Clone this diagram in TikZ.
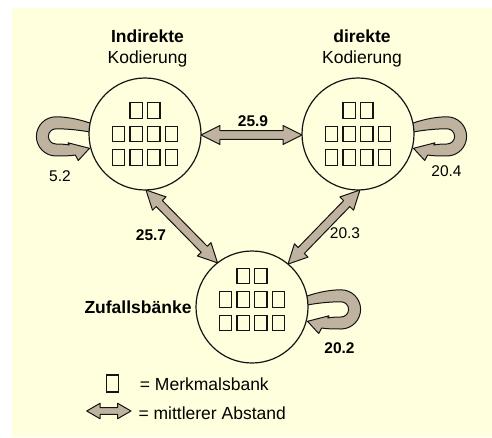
\documentclass[tikz,border=0pt]{standalone}
\usepackage{fontspec}
\setmainfont{Liberation Sans}
\usetikzlibrary{calc}

\definecolor{paper}{RGB}{255,255,221}
\definecolor{bandfill}{RGB}{191,179,159}
\definecolor{ink}{RGB}{20,20,20}

\pgfdeclarelayer{paperlayer}
\pgfdeclarelayer{links}
\pgfsetlayers{paperlayer,links,main}

% Wide outlined double arrow between two named points:
% #1 start, #2 end, #3 head length, #4 head half-width, #5 shaft half-width
\newcommand\widearrow[5]{%
  \coordinate (wa1) at ($(#1)!#3!(#2)$);
  \coordinate (wa2) at ($(#2)!#3!(#1)$);
  \draw[bandstyle] (#1) -- ($(wa1)!#4!90:(#2)$) -- ($(wa1)!#5!90:(#2)$)
    -- ($(wa2)!#5!-90:(#1)$) -- ($(wa2)!#4!-90:(#1)$) -- (#2)
    -- ($(wa2)!#4!90:(#1)$) -- ($(wa2)!#5!90:(#1)$)
    -- ($(wa1)!#5!-90:(#2)$) -- ($(wa1)!#4!-90:(#2)$) -- cycle;}

% Self-loop band beside a circle: #1 circle name, #2 side (-1 west, 1 east).
% Bend centred 89pt out and 2.4pt down, outer radius 19.6pt, inner 7.6pt.
\newcommand\selfloop[2]{%
  \draw[bandstyle] ($(#1)+(#2*54pt,10.6pt)$)
    .. controls ($(#1)+(#2*68pt,15.5pt)$) and ($(#1)+(#2*80pt,17.2pt)$) .. ($(#1)+(#2*89pt,17.2pt)$)
    .. controls ($(#1)+(#2*99.8pt,17.2pt)$) and ($(#1)+(#2*108.6pt,8.4pt)$) .. ($(#1)+(#2*108.6pt,-2.4pt)$)
    .. controls ($(#1)+(#2*108.6pt,-13.2pt)$) and ($(#1)+(#2*99.8pt,-22pt)$) .. ($(#1)+(#2*89pt,-22pt)$)
    .. controls ($(#1)+(#2*80pt,-22pt)$) and ($(#1)+(#2*74pt,-21.8pt)$) .. ($(#1)+(#2*69.7pt,-21pt)$)
    -- ($(#1)+(#2*66.7pt,-26.5pt)$) -- ($(#1)+(#2*55.5pt,-14.3pt)$)
    -- ($(#1)+(#2*77pt,-8.8pt)$) -- ($(#1)+(#2*75.7pt,-11pt)$)
    .. controls ($(#1)+(#2*80pt,-10.2pt)$) and ($(#1)+(#2*85pt,-10pt)$) .. ($(#1)+(#2*89pt,-10pt)$)
    .. controls ($(#1)+(#2*93.2pt,-10pt)$) and ($(#1)+(#2*96.6pt,-6.6pt)$) .. ($(#1)+(#2*96.6pt,-2.4pt)$)
    .. controls ($(#1)+(#2*96.6pt,1.8pt)$) and ($(#1)+(#2*93.2pt,5.2pt)$) .. ($(#1)+(#2*89pt,5.2pt)$)
    .. controls ($(#1)+(#2*78pt,5.2pt)$) and ($(#1)+(#2*66pt,4pt)$) .. ($(#1)+(#2*54pt,1.8pt)$)
    -- cycle;}

% Grid of feature banks inside a circle: #1 circle name, #2 vertical shift
\newcommand\cellgrid[2]{%
  \foreach \dx/\dy [count=\k] in {-8.8/23.5, 8.8/23.5,
      -26.4/0, -8.8/0, 8.8/0, 26.4/0,
      -26.4/-23.5, -8.8/-23.5, 8.8/-23.5, 26.4/-23.5}
    \node[cell] (#1-cell\k) at ($(#1)+(\dx pt,\dy pt+#2 pt)$) {};}

\tikzset{
  bandstyle/.style={draw=ink, fill=bandfill, line width=1pt, line join=round},
  bank/.style={circle, draw=ink, line width=1.2pt, fill=paper,
    minimum size=112pt, inner sep=0pt, outer sep=0pt},
  cell/.style={rectangle, draw=ink, line width=1.4pt, minimum width=12.3pt,
    minimum height=15.5pt, inner sep=0pt},
  title/.style={align=center, inner sep=0pt,
    font=\fontsize{17.5}{21.3}\selectfont},
  numlabel/.style={inner sep=0pt, anchor=base,
    font=\fontsize{15.5}{18}\selectfont},
  keytext/.style={inner sep=0pt, anchor=base west,
    font=\fontsize{17.5}{21}\selectfont}
}

\begin{document}
\begin{tikzpicture}[x=1pt, y=1pt]
\useasboundingbox (0,0) rectangle (492,437);
\begin{pgfonlayer}{paperlayer}
  \fill[paper] (12,0) rectangle (492,429);
\end{pgfonlayer}

% the three groups
\node[bank] (L) at (145,303) {};
\node[bank] (R) at (358,303) {};
\node[bank] (B) at (252,130) {};
\cellgrid{L}{0}
\cellgrid{R}{0}
\cellgrid{B}{7.5}

% attachment points of the distance arrows
\coordinate (L-e) at (L.-1.5);
\coordinate (R-w) at (R.181.5);
\coordinate (L-s) at (L.-89);
\coordinate (B-nw) at (B.128);
\coordinate (R-s) at (R.-88);
\coordinate (B-ne) at (B.50);

\begin{pgfonlayer}{links}
  \selfloop{L}{-1}
  \selfloop{R}{1}
  \selfloop{B}{1}
  \widearrow{L-e}{R-w}{19pt}{9.5pt}{4.3pt}
  \widearrow{L-s}{B-nw}{19pt}{9.5pt}{4.3pt}
  \widearrow{R-s}{B-ne}{19pt}{9.5pt}{4.3pt}
\end{pgfonlayer}

% group titles
\node[title] (L-title) at (147.5,388.2) {\textbf{Indirekte}\\Kodierung};
\node[title] (R-title) at (362,388.2) {\textbf{direkte}\\Kodierung};
\node[title, anchor=base east] (B-title) at (191.7,124) {\textbf{Zufallsbänke}};

% mean distances
\node[numlabel] (d-LR) at (253,310.3) {\textbf{25.9}};
\node[numlabel] (d-LB) at (151,197) {\textbf{25.7}};
\node[numlabel] (d-RB) at (345,199) {20.3};
\node[numlabel] (d-LL) at (60,255) {5.2};
\node[numlabel] (d-RR) at (446.5,260) {20.4};
\node[numlabel] (d-BB) at (339.5,84) {\textbf{20.2}};

% key
\node[cell, minimum height=17.3pt] (key-cell) at (112.5,53.5) {};
\node[keytext] (key-cell-text) at (139.7,46.3) {= Merkmalsbank};
\coordinate (key-a) at (86.7,26);
\coordinate (key-b) at (131,26);
\begin{pgfonlayer}{links}
  \widearrow{key-a}{key-b}{13.5pt}{7.8pt}{3.3pt}
\end{pgfonlayer}
\node[keytext] (key-arrow-text) at (138.3,17.7) {= mittlerer Abstand};
\end{tikzpicture}
\end{document}
